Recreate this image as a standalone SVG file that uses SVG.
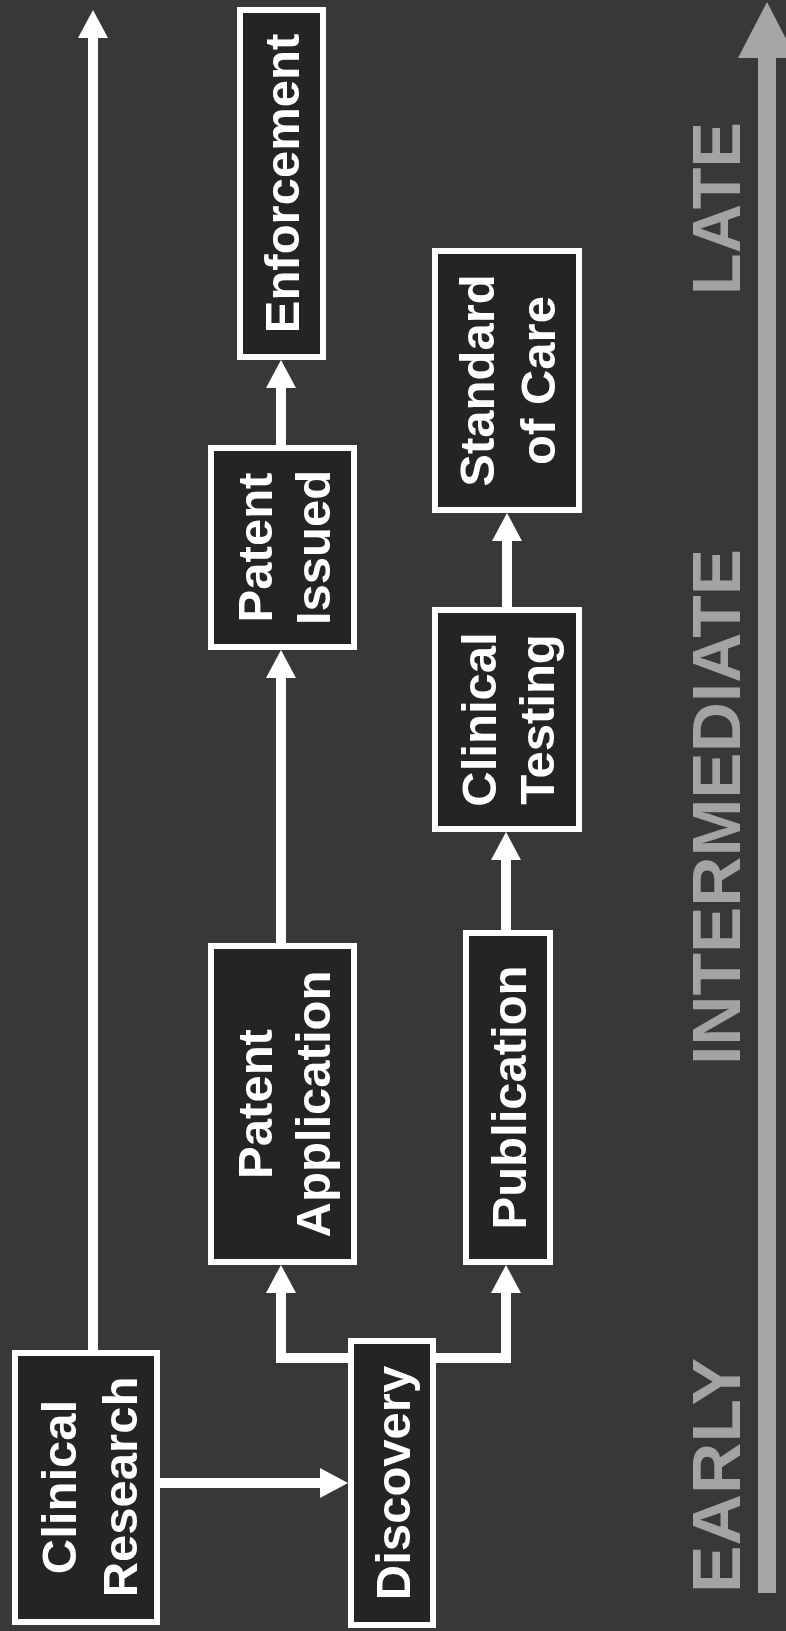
<svg xmlns="http://www.w3.org/2000/svg" width="786" height="1631" viewBox="0 0 786 1631">
<style>
.box{fill:#242424;stroke:#ffffff;stroke-width:6}
.lbl{font-family:"Liberation Sans",Arial,sans-serif;font-weight:bold;font-size:49px;fill:#ffffff;text-anchor:middle}
.phase{font-family:"Liberation Sans",Arial,sans-serif;font-weight:bold;font-size:69px;fill:#a3a3a3;text-anchor:middle}
.conn{fill:none;stroke:#ffffff;stroke-width:10;stroke-linejoin:miter}
</style>
<defs>
<marker id="ah" viewBox="0 -15 28 30" refX="0" refY="0" markerWidth="28" markerHeight="30" markerUnits="userSpaceOnUse" orient="auto">
<path d="M0,-15 L28,0 L0,15 Z" fill="#ffffff"/>
</marker>
</defs>
<rect x="0" y="0" width="786" height="1631" fill="#383838"/>

<g id="timeline">
<line x1="767" y1="1593" x2="767" y2="56" stroke="#a6a6a6" stroke-width="18"/>
<polygon points="738,58 767,2 796,58" fill="#a6a6a6"/>
<text class="phase" transform="translate(740,208.5) rotate(-90)" textLength="173" lengthAdjust="spacingAndGlyphs">LATE</text>
<text class="phase" transform="translate(740,807) rotate(-90)" textLength="516" lengthAdjust="spacingAndGlyphs">INTERMEDIATE</text>
<text class="phase" transform="translate(740,1475.5) rotate(-90)" textLength="235" lengthAdjust="spacingAndGlyphs">EARLY</text>
</g>

<g id="connectors">
<path class="conn" d="M93,1350 L93,38" marker-end="url(#ah)"/>
<path class="conn" d="M160,1483 L320,1483" marker-end="url(#ah)"/>
<path class="conn" d="M348,1358 L281,1358 L281,1293" marker-end="url(#ah)"/>
<path class="conn" d="M436,1358 L506,1358 L506,1293" marker-end="url(#ah)"/>
<path class="conn" d="M281,943 L281,678" marker-end="url(#ah)"/>
<path class="conn" d="M281,445 L281,388" marker-end="url(#ah)"/>
<path class="conn" d="M506,930 L506,860" marker-end="url(#ah)"/>
<path class="conn" d="M507,607 L507,541" marker-end="url(#ah)"/>
</g>

<g id="clinical-research">
<rect class="box" x="15" y="1353" width="142" height="269"/>
<text class="lbl" transform="translate(86,1487) rotate(-90)"><tspan x="0" y="-10">Clinical</tspan><tspan x="0" y="51">Research</tspan></text>
</g>
<g id="discovery">
<rect class="box" x="351" y="1341" width="82" height="284"/>
<text class="lbl" transform="translate(392,1483) rotate(-90)"><tspan x="0" y="17.5">Discovery</tspan></text>
</g>
<g id="patent-application">
<rect class="box" x="211" y="946" width="143" height="316"/>
<text class="lbl" transform="translate(282.5,1104) rotate(-90)"><tspan x="0" y="-11">Patent</tspan><tspan x="0" y="47">Application</tspan></text>
</g>
<g id="publication">
<rect class="box" x="466" y="933" width="84" height="329"/>
<text class="lbl" transform="translate(508,1097.5) rotate(-90)"><tspan x="0" y="17.5">Publication</tspan></text>
</g>
<g id="patent-issued">
<rect class="box" x="211" y="448" width="143" height="199"/>
<text class="lbl" transform="translate(282.5,547.5) rotate(-90)"><tspan x="0" y="-11">Patent</tspan><tspan x="0" y="47">Issued</tspan></text>
</g>
<g id="enforcement">
<rect class="box" x="240" y="10" width="83" height="347"/>
<text class="lbl" transform="translate(281.5,183.5) rotate(-90)"><tspan x="0" y="17.5">Enforcement</tspan></text>
</g>
<g id="clinical-testing">
<rect class="box" x="435" y="610" width="144" height="219"/>
<text class="lbl" transform="translate(507,719.5) rotate(-90)"><tspan x="0" y="-11">Clinical</tspan><tspan x="0" y="47">Testing</tspan></text>
</g>
<g id="standard-of-care">
<rect class="box" x="435" y="251" width="144" height="259"/>
<text class="lbl" transform="translate(507,380.5) rotate(-90)"><tspan x="0" y="-13">Standard</tspan><tspan x="0" y="48">of Care</tspan></text>
</g>
</svg>
